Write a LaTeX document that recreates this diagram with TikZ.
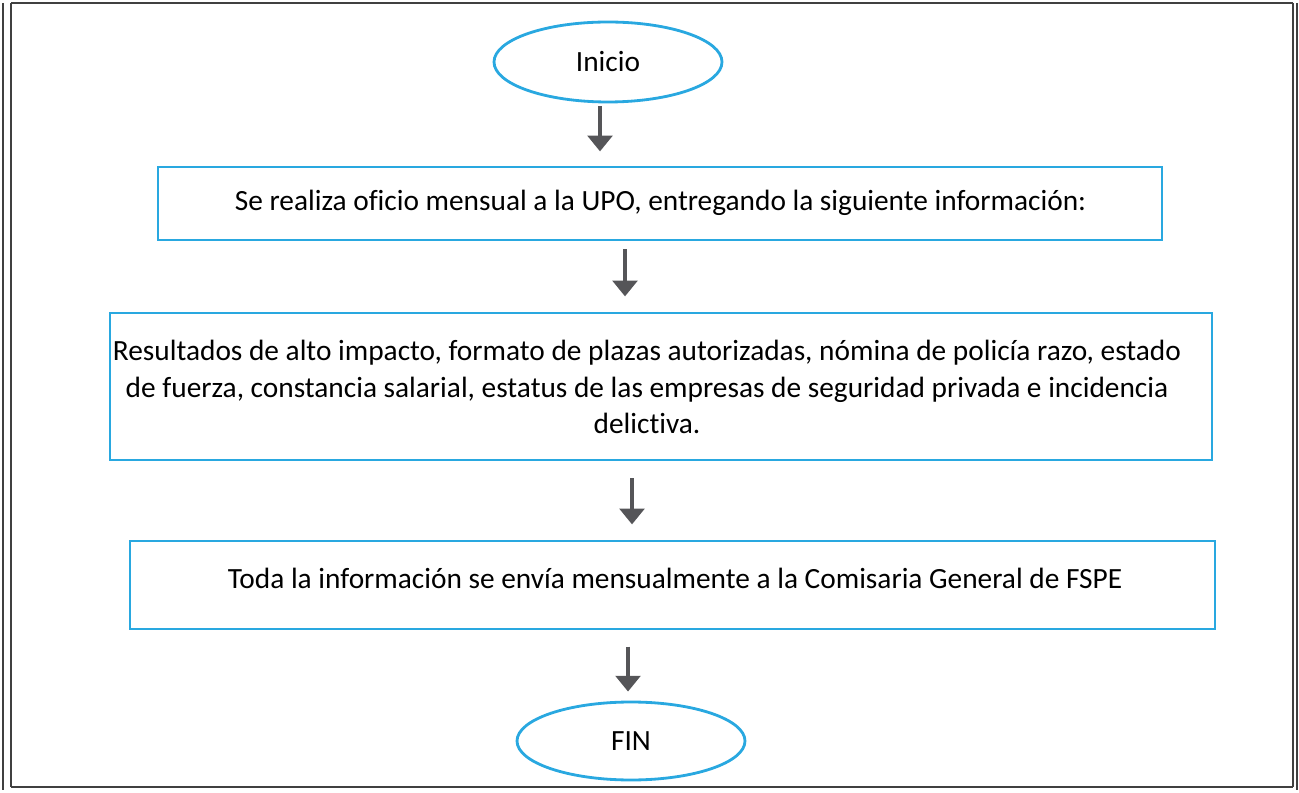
\documentclass[tikz,border=0pt]{standalone}
\usepackage{fontspec}
\setmainfont[Ligatures=NoCommon]{Carlito}
\usetikzlibrary{arrows.meta,shapes.geometric}
\definecolor{azulcaja}{RGB}{41,168,224}
\definecolor{grisflecha}{RGB}{85,85,88}
\tikzset{
	caja/.style={draw=azulcaja, line width=1.6pt, rectangle, align=center, inner sep=0pt},
	extremo/.style={draw=azulcaja, line width=1.6pt, ellipse, minimum width=4.56cm, minimum height=1.6cm, inner sep=0pt},
	flecha/.style={draw=grisflecha, line width=2.8pt, -{Triangle[width=14pt,length=9pt]}},
	marco/.style={line width=0.9pt, color=black!75}
}
\begin{document}
\begin{tikzpicture}[font=\fontsize{16.7}{21}\selectfont]
			%%%%% START %%%%%
			\useasboundingbox (0, 0) rectangle (25.98, -15.86);
			
			% marco exterior
			\draw[marco] (0.22, -0.06) -- (25.86, -0.06);
			\draw[marco] (0.22, -15.74) -- (25.86, -15.74);
			\draw[marco] (0.06, -0.06) -- (0.06, -15.80);
			\draw[marco] (0.22, -0.06) -- (0.22, -15.74);
			\draw[marco] (25.86, -0.06) -- (25.86, -15.74);
			\draw[marco] (25.94, -0.06) -- (25.94, -15.80);
			
			\node[extremo] (inicio) at (12.16, -1.24) {Inicio};
			
			\node[caja, minimum width=20.08cm, minimum height=1.46cm] (oficio) at (13.20, -4.07) {};
			\node (txtoficio) at (13.21, -4.06) {Se realiza oficio mensual a la UPO, entregando la siguiente información:};
			
			\node[caja, minimum width=22.04cm, minimum height=2.94cm] (datos) at (13.22, -7.73) {};
			\node[align=center] (txtdatos) at (12.94, -7.74) {Resultados de alto impacto, formato de plazas autorizadas, nómina de policía razo, estado\\ de fuerza, constancia salarial, estatus de las empresas de seguridad privada e incidencia\\ delictiva.};
			
			\node[caja, minimum width=21.70cm, minimum height=1.76cm] (envio) at (13.45, -11.70) {};
			\node (txtenvio) at (13.50, -11.56) {Toda la información se envía mensualmente a la Comisaria General de FSPE};
			
			\node[extremo, minimum height=1.56cm] (fin) at (12.62, -14.82) {FIN};
			
			% flechas
			\draw[flecha] ([xshift=-0.16cm, yshift=-0.06cm]inicio.south) -- ++(0, -0.90);
			\draw[flecha] ([xshift=-0.70cm, yshift=-0.16cm]oficio.south) -- ++(0, -0.94);
			\draw[flecha] ([xshift=-0.58cm, yshift=-0.34cm]datos.south) -- ++(0, -0.92);
			\draw[flecha] ([xshift=-0.06cm, yshift=1.08cm]fin.north) -- ([xshift=-0.06cm, yshift=0.18cm]fin.north);
			
			%%%%% END %%%%%
\end{tikzpicture}
\end{document}
